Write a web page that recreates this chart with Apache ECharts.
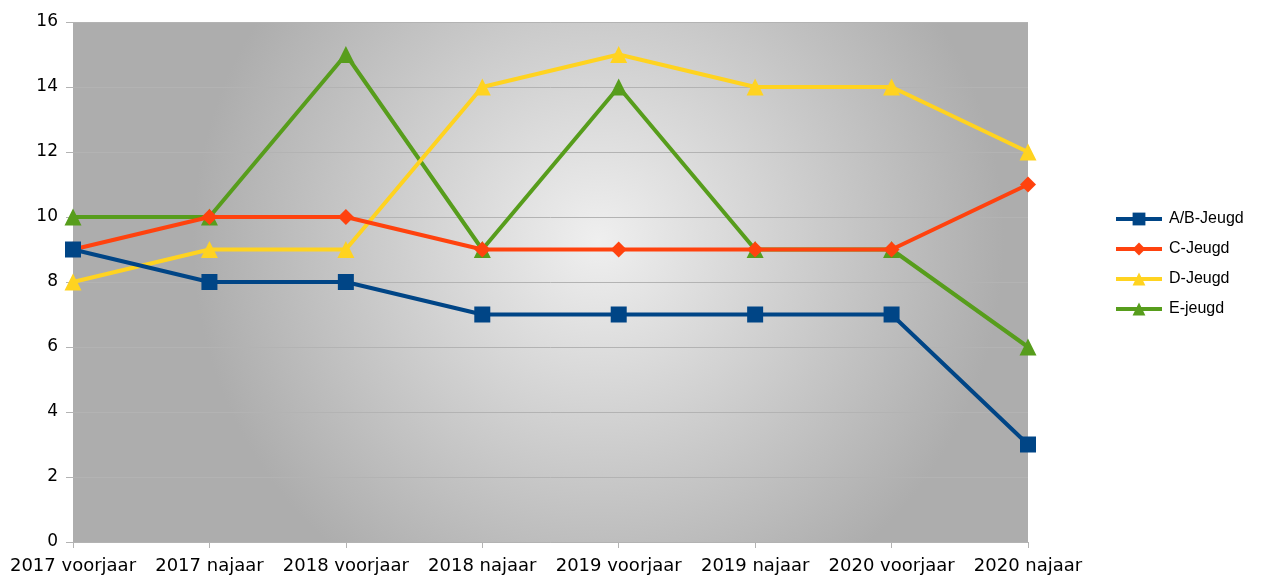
<!DOCTYPE html>
<html><head><meta charset="utf-8">
<script src="https://cdn.jsdelivr.net/npm/echarts@6/dist/echarts.min.js"></script>
<style>html,body{margin:0;padding:0;background:#fff}#c{width:1271px;height:579px}</style>
</head><body><div id="c"></div>
<script>
const categories = ['2017 voorjaar','2017 najaar','2018 voorjaar','2018 najaar','2019 voorjaar','2019 najaar','2020 voorjaar','2020 najaar'];
const seriesNames = ['A/B-Jeugd','C-Jeugd','D-Jeugd','E-jeugd'];
const abJeugd = [9, 8, 8, 7, 7, 7, 7, 3];
const cJeugd = [9, 10, 10, 9, 9, 9, 9, 11];
const dJeugd = [8, 9, 9, 14, 15, 14, 14, 12];
const eJeugd = [10, 10, 15, 9, 14, 9, 9, 6];
const colors = ['#004586','#ff420e','#ffd320','#579d1c'];
const symbols = ['rect','diamond','triangle','triangle'];
const sizes = [16,16,17,17];
const allData = [abJeugd, cJeugd, dJeugd, eJeugd];
const font = 'DejaVu Sans, Liberation Sans, sans-serif';

const chart = echarts.init(document.getElementById('c'), null, {renderer:'canvas'});
chart.setOption({
  animation:false,
  textStyle:{fontFamily:font},
  grid:{left:73,right:243,top:22,bottom:37,show:true,borderWidth:0,
    backgroundColor:new echarts.graphic.RadialGradient(0.55,0.42,0.78,[
      {offset:0,color:'#efefef'},{offset:1,color:'#adadad'}])},
  legend:{orient:'vertical',left:1109,top:206,itemWidth:46,itemHeight:16,itemGap:14,
    lineStyle:{width:4},
    textStyle:{fontSize:16,color:'#000',fontFamily:'Liberation Sans, Arial, sans-serif',padding:[0,0,0,2]},
    data:seriesNames},
  xAxis:{type:'category',data:categories,boundaryGap:false,
    axisLine:{show:true,lineStyle:{color:'#b3b3b3',width:1}},
    axisTick:{show:true,length:6,lineStyle:{color:'#b3b3b3'}},
    axisLabel:{fontSize:18,color:'#000',margin:15,interval:0},
    splitLine:{show:false}},
  yAxis:{type:'value',min:0,max:16,interval:2,
    axisLine:{show:false},
    axisTick:{show:true,length:7,lineStyle:{color:'#b3b3b3'}},
    axisLabel:{fontSize:17,color:'#000',margin:15},
    splitLine:{show:true,lineStyle:{color:'#b3b3b3',width:1}}},
  series:seriesNames.map((n,i)=>({
    name:n,type:'line',data:allData[i],
    symbol:symbols[i],symbolSize:sizes[i],showAllSymbol:true,
    itemStyle:{color:colors[i]},
    lineStyle:{color:colors[i],width:4},
    z:10-i
  }))
});
</script></body></html>
